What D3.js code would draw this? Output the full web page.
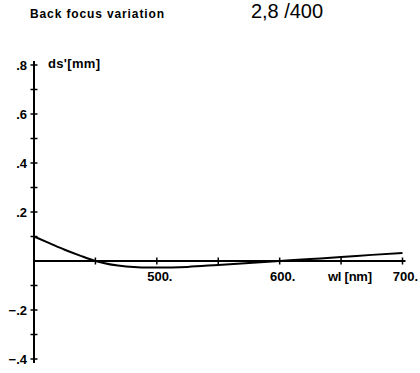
<!DOCTYPE html>
<html>
<head>
<meta charset="utf-8">
<script src="https://cdn.jsdelivr.net/npm/d3@7"></script>
<style>
  body { margin: 0; background: #fff; }
  text { font-family: "Liberation Sans", Arial, sans-serif; fill: #000; }
</style>
</head>
<body>
<div id="chart"></div>
<script>
// wavelength (nm) and back focus shift ds' (mm)
var wavelengths = [400, 412.5, 425, 437.5, 450, 475, 500, 525, 550, 575, 600, 625, 650, 675, 700];
var focusShift = [0.100, 0.073, 0.046, 0.022, 0.0, -0.022, -0.027, -0.024, -0.016, -0.008, 0.0, 0.008, 0.016, 0.025, 0.033];

var xTicks = [450, 500, 550, 600, 650, 700];
var xLabels = [500, 600, 700];
var yTicks = [-0.4, -0.3, -0.2, -0.1, 0.1, 0.2, 0.3, 0.4, 0.5, 0.6, 0.7, 0.8];
var yLabels = [-0.4, -0.2, 0.2, 0.4, 0.6, 0.8];

var width = 420, height = 373;

var x = d3.scaleLinear()
    .domain([400, 700])
    .range([34, 402.5]);

var y = d3.scaleLinear()
    .domain([-0.4, 0.8])
    .range([359, 65]);

var svg = d3.select('#chart')
  .append('svg')
    .attr('width', width)
    .attr('height', height);

// titles
svg.append('text')
    .attr('x', 30).attr('y', 18)
    .attr('font-size', 12).attr('font-weight', 'bold')
    .attr('textLength', 134)
    .text('Back focus variation');

svg.append('text')
    .attr('x', 251).attr('y', 18)
    .attr('font-size', 20)
    .attr('textLength', 72)
    .text('2,8 /400');

// y axis line
svg.append('line')
    .attr('x1', x(400)).attr('x2', x(400))
    .attr('y1', y(0.8) - 4).attr('y2', y(-0.4) + 4)
    .attr('stroke', '#000').attr('stroke-width', 2);

// x axis line (zero)
svg.append('line')
    .attr('x1', x(400)).attr('x2', x(700) + 3)
    .attr('y1', y(0)).attr('y2', y(0))
    .attr('stroke', '#000').attr('stroke-width', 2);

// y ticks cross the axis
svg.selectAll('.ytick')
  .data(yTicks)
  .enter().append('line')
    .attr('class', 'ytick')
    .attr('x1', x(400) - 3.5).attr('x2', x(400) + 3.5)
    .attr('y1', function(d) { return y(d); })
    .attr('y2', function(d) { return y(d); })
    .attr('stroke', '#000').attr('stroke-width', 1.5);

svg.selectAll('.ylab')
  .data(yLabels)
  .enter().append('text')
    .attr('class', 'ylab')
    .attr('x', 27)
    .attr('y', function(d) { return y(d) + 4.5; })
    .attr('text-anchor', 'end')
    .attr('font-size', 13).attr('font-weight', 'bold')
    .text(function(d) { return d3.format('.1f')(d).replace('0.', '.').replace('-', '\u2013'); });

// x ticks
svg.selectAll('.xtick')
  .data(xTicks)
  .enter().append('line')
    .attr('class', 'xtick')
    .attr('x1', function(d) { return x(d); })
    .attr('x2', function(d) { return x(d); })
    .attr('y1', y(0) - 3.5).attr('y2', y(0) + 3.5)
    .attr('stroke', '#000').attr('stroke-width', 1.5);

svg.selectAll('.xlab')
  .data(xLabels)
  .enter().append('text')
    .attr('class', 'xlab')
    .attr('x', function(d) { return x(d) + 3; })
    .attr('y', y(0) + 20)
    .attr('text-anchor', 'middle')
    .attr('font-size', 13).attr('font-weight', 'bold')
    .text(function(d) { return d + '.'; });

// axis titles
svg.append('text')
    .attr('x', 48).attr('y', 68)
    .attr('font-size', 13).attr('font-weight', 'bold')
    .attr('textLength', 52)
    .text("ds'[mm]");

svg.append('text')
    .attr('x', 328).attr('y', y(0) + 20)
    .attr('font-size', 13).attr('font-weight', 'bold')
    .attr('textLength', 44)
    .text('wl [nm]');

// curve
var line = d3.line()
    .x(function(d, i) { return x(wavelengths[i]); })
    .y(function(d) { return y(d); })
    .curve(d3.curveMonotoneX);

svg.append('path')
    .datum(focusShift)
    .attr('d', line)
    .attr('fill', 'none')
    .attr('stroke', '#000')
    .attr('stroke-width', 2);
</script>
</body>
</html>
